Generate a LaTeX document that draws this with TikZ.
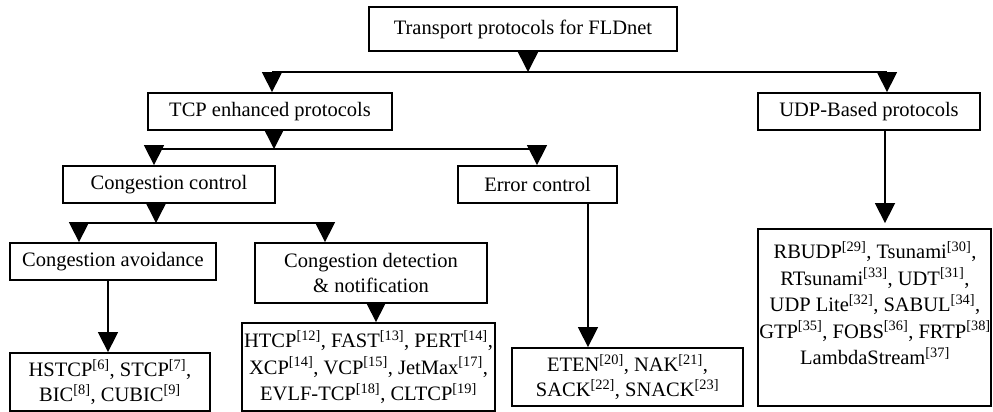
\documentclass[tikz,border=0pt]{standalone}
\usepackage{fontspec}
\setmainfont{Liberation Serif}
\usetikzlibrary{arrows.meta}
\newcommand{\rf}[1]{\textsuperscript{[#1]}}
\begin{document}
\begin{tikzpicture}[x=1pt,y=-1pt,
  box/.style={draw, line width=1.8pt, inner sep=0pt, align=center,
    font=\fontsize{20.5}{25.5}\selectfont},
  listtext/.style={inner sep=0pt, align=center,
    font=\fontsize{20.5}{26.5}\selectfont},
  link/.style={line width=1.5pt},
  arr/.style={line width=1.5pt, -{Triangle[length=20pt,width=20pt]}}]
\useasboundingbox (0,0) rectangle (993,412);

% boxes: centre, width, height
\node[box, minimum width=308pt, minimum height=44pt] (root) at (523,29) {Transport protocols for FLDnet};
\node[box, minimum width=244pt, minimum height=37pt] (tcp) at (270,111.5) {TCP enhanced protocols};
\node[box, minimum width=222pt, minimum height=37pt] (udp) at (869,111.5) {UDP-Based protocols};
\node[box, minimum width=212pt, minimum height=37pt] (cc) at (169,184.5) {Congestion control};
\node[box, minimum width=159pt, minimum height=37pt] (ec) at (537.5,184.5) {Error control};
\node[box, minimum width=206pt, minimum height=37pt] (ca) at (113,261.5) {Congestion avoidance};
\node[box, minimum width=232pt, minimum height=60pt] (cd) at (371,273) {Congestion detection\\ \& notification};
\node[box, minimum width=200pt, minimum height=58pt, font=\fontsize{20.5}{25}\selectfont] (calist) at (110,382)
  {HSTCP\rf{6}, STCP\rf{7},\\ BIC\rf{8}, CUBIC\rf{9}};
\node[box, minimum width=253pt, minimum height=88pt, font=\fontsize{20.5}{26.5}\selectfont] (cdlist) at (368.5,367)
  {HTCP\rf{12}, FAST\rf{13}, PERT\rf{14},\\ XCP\rf{14}, VCP\rf{15}, JetMax\rf{17},\\ EVLF-TCP\rf{18}, CLTCP\rf{19}};
\node[box, minimum width=231pt, minimum height=58pt, font=\fontsize{20.5}{25}\selectfont] (eclist) at (627.5,377)
  {ETEN\rf{20}, NAK\rf{21},\\ SACK\rf{22}, SNACK\rf{23}};
% UDP list: tall frame, text set in its upper part
\node[box, minimum width=233pt, minimum height=177pt] (udplist) at (874.5,317.5) {};
\node[listtext] (udptext) at (875,303)
  {RBUDP\rf{29}, Tsunami\rf{30},\\ RTsunami\rf{33}, UDT\rf{31},\\ UDP Lite\rf{32}, SABUL\rf{34},\\ GTP\rf{35}, FOBS\rf{36}, FRTP\rf{38}\\ LambdaStream\rf{37}};

% branch points
\coordinate (j1) at (528,72);
\coordinate (j1l) at (272,72);
\coordinate (j1r) at (887,72);
\coordinate (j2) at (274,149);
\coordinate (j2l) at (154,149);
\coordinate (j2r) at (537,149);
\coordinate (j3) at (156,223);
\coordinate (j3l) at (79,223);
\coordinate (j3r) at (325,223);

% first level
\draw[arr] (root.south -| j1) -- (j1);
\draw[link] (j1l) -- (j1r);
\draw[arr] (j1l) -- (tcp.north -| j1l);
\draw[arr] (j1r) -- (udp.north -| j1r);

% TCP branch
\draw[arr] (tcp.south -| j2) -- (j2);
\draw[link] (j2l) -- (j2r);
\draw[arr] (j2l) -- (cc.north -| j2l);
\draw[arr] (j2r) -- (ec.north -| j2r);

% congestion control branch
\draw[arr] (cc.south -| j3) -- (j3);
\draw[link] (j3l) -- (j3r);
\draw[arr] (j3l) -- (ca.north -| j3l);
\draw[arr] (j3r) -- (cd.north -| j3r);

% leaves
\coordinate (xa) at (108,0);
\coordinate (xd) at (376,0);
\coordinate (xe) at (588,0);
\coordinate (xu) at (885,0);
\draw[arr] (ca.south -| xa) -- (calist.north -| xa);
\draw[arr] (cd.south -| xd) -- (cdlist.north -| xd);
\draw[arr] (ec.south -| xe) -- (eclist.north -| xe);
\draw[arr, shorten >=5pt] (udp.south -| xu) -- (udplist.north -| xu);
\end{tikzpicture}
\end{document}
